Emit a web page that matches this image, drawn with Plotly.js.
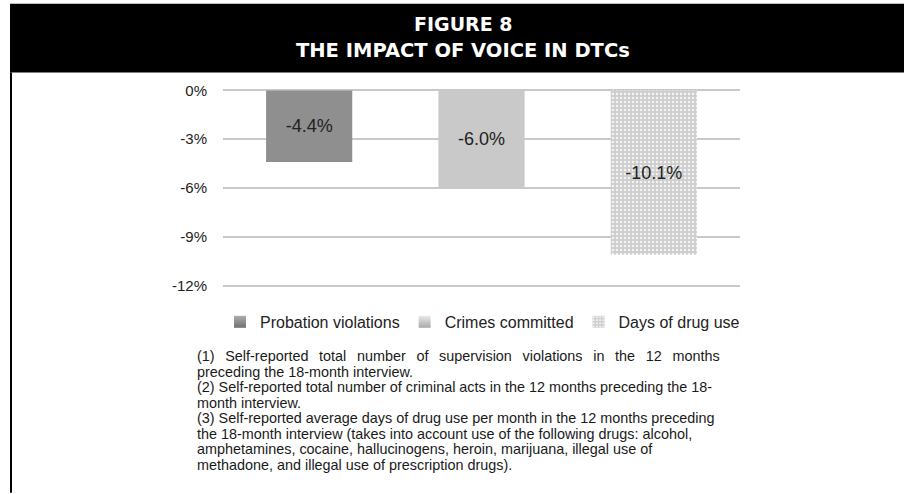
<!DOCTYPE html>
<html>
<head>
<meta charset="utf-8">
<script src="https://cdn.plot.ly/plotly-3.0.1.min.js"></script>
<style>
  html, body { margin: 0; padding: 0; background: #fff; }
  #chart { width: 904px; height: 494px; }
</style>
</head>
<body>
<div id="chart"></div>
<script>
// ---- data ----
const categories = ['Probation violations', 'Crimes committed', 'Days of drug use'];
const values = [-4.4, -6.0, -10.1];
const tickVals = [0, -3, -6, -9, -12];
const tickText = ['0%', '-3%', '-6%', '-9%', '-12%'];
const titleLines = ['FIGURE 8', 'THE IMPACT OF VOICE IN DTCs'];
const notes = [
  '(1) Self-reported total number of supervision violations in the 12 months',
  'preceding the 18-month interview.',
  '(2) Self-reported total number of criminal acts in the 12 months preceding the 18-',
  'month interview.',
  '(3) Self-reported average days of drug use per month in the 12 months preceding',
  'the 18-month interview (takes into account use of the following drugs: alcohol,',
  'amphetamines, cocaine, hallucinogens, heroin, marijuana, illegal use of',
  'methadone, and illegal use of prescription drugs).'
];

// ---- layout helpers (pixel -> paper) ----
const W = 904, H = 494;
const PAD = 0.15;                       // small range padding so edge gridlines show
const K = 196 / 12;                     // px per percentage point
const L = 223, R = 740, T = 90 - PAD * K, B = 286 + PAD * K;
const px2x = p => (p - L) / (R - L);
const py2y = p => (B - p) / (B - T);

const baseColors = ['#8f8f8f', '#c9c9c9', '#cfcfcf'];
const FONT = 'Liberation Sans, Arial, Helvetica, sans-serif';

const traces = categories.map((c, i) => {
  const t = {
    type: 'bar',
    name: c,
    x: [c],
    y: [values[i]],
    width: 0.5,
    text: [values[i].toFixed(1) + '%'],
    textposition: 'inside',
    insidetextanchor: 'middle',
    textangle: 0,
    textfont: { family: FONT, size: 18, color: '#222' },
    marker: { color: baseColors[i], line: { width: 0 } },
    hoverinfo: 'skip'
  };
  if (i === 2) {
    t.marker.pattern = { shape: '.', bgcolor: '#cdcdcd', fgcolor: '#f4f4f4', size: 4, solidity: 0.3 };
  }
  return t;
});

const annotations = [];
annotations.push({
  xref: 'paper', yref: 'paper', x: px2x(463), y: py2y(23.5), xanchor: 'center', yanchor: 'middle',
  text: '<b>' + titleLines[0] + '</b>', showarrow: false,
  font: { family: 'DejaVu Sans, sans-serif', size: 19, color: '#fff' }
});
annotations.push({
  xref: 'paper', yref: 'paper', x: px2x(463), y: py2y(50), xanchor: 'center', yanchor: 'middle',
  text: '<b>' + titleLines[1] + '</b>', showarrow: false,
  font: { family: 'DejaVu Sans, sans-serif', size: 19.5, color: '#fff' }
});
notes.forEach((n, i) => {
  annotations.push({
    xref: 'paper', yref: 'paper', x: px2x(195), y: py2y(357 + i * 15.6),
    xanchor: 'left', yanchor: 'middle', align: 'left',
    text: n, showarrow: false,
    font: { family: FONT, size: 14.4, color: '#1a1a1a' }
  });
});

const shapes = [
  { type: 'rect', xref: 'paper', yref: 'paper', x0: px2x(10), x1: px2x(904), y0: py2y(72), y1: py2y(3),
    fillcolor: '#000', line: { width: 0 }, layer: 'below' },
  { type: 'line', xref: 'paper', yref: 'paper', x0: px2x(11), x1: px2x(11), y0: py2y(72), y1: py2y(494),
    line: { color: '#000', width: 2 } }
];

const layout = {
  width: W, height: H,
  margin: { l: L, r: W - R, t: T, b: H - B, pad: 0 },
  paper_bgcolor: '#fff', plot_bgcolor: '#fff',
  barmode: 'overlay',
  showlegend: true,
  legend: {
    orientation: 'h', xref: 'paper', yref: 'paper',
    x: px2x(220), xanchor: 'left', y: py2y(322.5), yanchor: 'middle',
    font: { family: FONT, size: 16, color: '#222' }, itemwidth: 30, traceorder: 'normal'
  },
  xaxis: { type: 'category', showticklabels: false, showgrid: false, zeroline: false, showline: false, ticks: '', fixedrange: true },
  yaxis: {
    range: [-12 - PAD, PAD], tickvals: tickVals, ticktext: tickText,
    showgrid: true, gridcolor: '#c9c9c9', gridwidth: 2,
    zeroline: true, zerolinecolor: '#c9c9c9', zerolinewidth: 2,
    showline: false, ticks: '', ticklabelstandoff: 15,
    tickfont: { family: FONT, size: 15, color: '#222' }, fixedrange: true
  },
  annotations: annotations,
  shapes: shapes,
  font: { family: FONT }
};

Plotly.newPlot('chart', traces, layout, { displayModeBar: false, staticPlot: true }).then(gd => {
  const svgNS = 'http://www.w3.org/2000/svg';
  const defs = gd.querySelector('svg.main-svg defs');
  const grads = [['g0', '#adadad', '#717171'], ['g1', '#e9e9e9', '#a8a8a8']];
  grads.forEach(([id, c1, c2]) => {
    const lg = document.createElementNS(svgNS, 'linearGradient');
    lg.setAttribute('id', id);
    lg.setAttribute('x1', '0'); lg.setAttribute('y1', '0');
    lg.setAttribute('x2', '0'); lg.setAttribute('y2', '1');
    [[0, c1], [1, c2]].forEach(([o, c]) => {
      const s = document.createElementNS(svgNS, 'stop');
      s.setAttribute('offset', o);
      s.setAttribute('stop-color', c);
      lg.appendChild(s);
    });
    defs.appendChild(lg);
  });
  const barTraces = gd.querySelectorAll('.plot .trace.bars');
  [0, 1].forEach(i => {
    if (barTraces[i]) barTraces[i].querySelectorAll('path').forEach(p => { p.style.fill = 'url(#g' + i + ')'; });
  });
  const legTraces = gd.querySelectorAll('.legend .traces');
  [0, 1].forEach(i => {
    if (legTraces[i]) legTraces[i].querySelectorAll('.legendpoints path').forEach(p => { p.style.fill = 'url(#g' + i + ')'; });
  });
  // justify first footnote line
  const target = 719.3 - 196.7;
  gd.querySelectorAll('.annotation-text').forEach(t => {
    if (t.textContent.indexOf('(1)') === 0) {
      const w = t.getComputedTextLength();
      const gaps = (t.textContent.match(/ /g) || []).length;
      if (gaps > 0 && target > w) t.style.wordSpacing = ((target - w) / gaps) + 'px';
    }
  });
});
</script>
</body>
</html>
